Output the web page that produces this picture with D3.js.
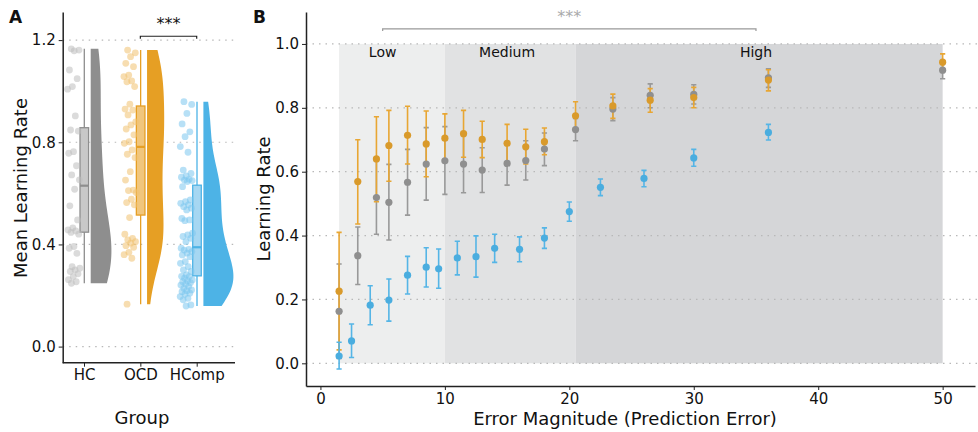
<!DOCTYPE html>
<meta charset="utf-8">
<style>
  body { margin: 0; background: #fff; }
  svg text { font-family: "DejaVu Sans", sans-serif; fill: #111; }
  .tick text { font-size: 15px; fill: #111; }
  .axis path, .axis line { stroke: #222; }
  .grid { stroke: #b8b8b8; stroke-width: 1.2; stroke-dasharray: 1.5,5; }
</style>
<svg width="978" height="432"></svg>
<script src="https://d3js.org/d3.v7.min.js"></script>
<script>

var groups = ["HC", "OCD", "HComp"];
var colors = { HC: "#8e8e8e", OCD: "#e69f24", HComp: "#4db3e6" };
var boxFill = { HC: "#c8c8c8", OCD: "#f1c67c", HComp: "#a6d7f2" };
var pointFill = { HC: "#bdbdbd", OCD: "#f0c170", HComp: "#7cc6ee" };

// ---- panel A: mean learning rate per participant ----
var hcPoints = [1.166, 1.161, 1.158, 1.083, 1.049, 1.018, 1.008, 0.903, 0.848, 0.844,
  0.763, 0.757, 0.708, 0.672, 0.653, 0.616, 0.551, 0.496, 0.465, 0.457, 0.453, 0.447,
  0.440, 0.392, 0.385, 0.365, 0.313, 0.307, 0.300, 0.294, 0.285, 0.274, 0.262, 0.254, 0.248];
var ocdPoints = [1.161, 1.150, 1.135, 1.109, 1.096, 1.063, 1.057, 1.040, 1.037, 1.018,
  0.949, 0.930, 0.926, 0.907, 0.880, 0.868, 0.852, 0.829, 0.802, 0.796, 0.770, 0.753,
  0.740, 0.685, 0.652, 0.613, 0.611, 0.603, 0.577, 0.564, 0.555, 0.505, 0.440, 0.424,
  0.418, 0.411, 0.405, 0.395, 0.389, 0.369, 0.360, 0.346, 0.166];
var hcompPoints = [0.959, 0.948, 0.913, 0.872, 0.841, 0.822, 0.783, 0.761, 0.691, 0.678,
  0.668, 0.663, 0.655, 0.652, 0.650, 0.646, 0.626, 0.574, 0.568, 0.561, 0.555, 0.548,
  0.542, 0.535, 0.502, 0.496, 0.493, 0.444, 0.437, 0.431, 0.424, 0.411, 0.385, 0.381,
  0.378, 0.372, 0.366, 0.359, 0.352, 0.333, 0.326, 0.313, 0.300, 0.294, 0.281, 0.275,
  0.274, 0.268, 0.261, 0.258, 0.254, 0.250, 0.245, 0.241, 0.235, 0.228, 0.222, 0.219,
  0.215, 0.209, 0.205, 0.196, 0.189, 0.183, 0.163, 0.159];

var boxQ1 = [0.448, 0.515, 0.277];
var boxMedian = [0.630, 0.782, 0.389];
var boxQ3 = [0.857, 0.942, 0.632];
var whiskerLo = [0.248, 0.166, 0.159];
var whiskerHi = [1.166, 1.161, 0.959];

var ticksA = [0, 0.4, 0.8, 1.2];

// ---- panel B: learning rate by error magnitude ----
var hcX = [1.5, 3, 4.5, 5.5, 7, 8.5, 10, 11.5, 13, 15, 16.5, 18, 20.5, 23.5, 26.5, 30, 36, 50];
var hcMean = [0.163, 0.337, 0.519, 0.504, 0.567, 0.624, 0.634, 0.624, 0.605, 0.626, 0.635, 0.671, 0.732, 0.796, 0.839, 0.842, 0.894, 0.918];
var hcLo = [0.015, 0.247, 0.404, 0.386, 0.464, 0.511, 0.529, 0.534, 0.535, 0.558, 0.574, 0.619, 0.697, 0.760, 0.800, 0.812, 0.864, 0.891];
var hcHi = [0.311, 0.427, 0.634, 0.623, 0.670, 0.738, 0.741, 0.714, 0.675, 0.693, 0.697, 0.721, 0.767, 0.832, 0.875, 0.872, 0.922, 0.945];

var ocdX = [1.5, 3, 4.5, 5.5, 7, 8.5, 10, 11.5, 13, 15, 16.5, 18, 20.5, 23.5, 26.5, 30, 36, 50];
var ocdMean = [0.226, 0.569, 0.640, 0.682, 0.714, 0.687, 0.705, 0.719, 0.701, 0.689, 0.678, 0.694, 0.775, 0.806, 0.824, 0.832, 0.887, 0.943];
var ocdLo = [0.042, 0.436, 0.506, 0.570, 0.624, 0.584, 0.632, 0.645, 0.644, 0.631, 0.624, 0.653, 0.732, 0.767, 0.786, 0.800, 0.853, 0.917];
var ocdHi = [0.410, 0.700, 0.772, 0.792, 0.805, 0.790, 0.781, 0.792, 0.758, 0.748, 0.733, 0.737, 0.819, 0.843, 0.860, 0.864, 0.919, 0.969];

var hcompX = [1.5, 2.5, 4, 5.5, 7, 8.5, 9.5, 11, 12.5, 14, 16, 18, 20, 22.5, 26, 30, 36];
var hcompMean = [0.023, 0.070, 0.182, 0.198, 0.276, 0.301, 0.296, 0.330, 0.334, 0.360, 0.357, 0.392, 0.475, 0.551, 0.579, 0.643, 0.723];
var hcompLo = [-0.018, 0.018, 0.121, 0.132, 0.217, 0.239, 0.235, 0.277, 0.270, 0.316, 0.318, 0.360, 0.445, 0.525, 0.553, 0.617, 0.699];
var hcompHi = [0.066, 0.123, 0.243, 0.264, 0.335, 0.362, 0.358, 0.382, 0.399, 0.404, 0.396, 0.424, 0.505, 0.577, 0.604, 0.670, 0.748];

var zoneNames = ["Low", "Medium", "High"];
var zoneStart = [1.5, 10, 20.5];
var zoneEnd = [10, 20.5, 50];
var zoneLabelX = [5, 15, 35];
var zoneColors = ["#edeeee", "#e1e2e3", "#d5d6d8"];

var ticksBx = [0, 10, 20, 30, 40, 50];
var ticksBy = [0, 0.2, 0.4, 0.6, 0.8, 1.0];

var svg = d3.select("svg");

// ================= panel A =================
var pointsByGroup = { HC: hcPoints, OCD: ocdPoints, HComp: hcompPoints };

var yA = d3.scaleLinear().domain([-0.063, 1.31]).range([362.7, 12]);
var xA = d3.scalePoint().domain(groups).range([84, 196.7]);
var aLeft = 62.7, aRight = 237;

var gA = svg.append("g");

gA.selectAll(".gridA").data(ticksA).enter().append("line")
    .attr("class", "grid")
    .attr("x1", aLeft).attr("x2", aRight)
    .attr("y1", function(d) { return yA(d); })
    .attr("y2", function(d) { return yA(d); });

// kernel density (gaussian, nrd0 bandwidth), trimmed to data range
function kde(values) {
    var v = values.slice().sort(d3.ascending);
    var n = v.length;
    var sd = d3.deviation(v);
    var iqr = d3.quantile(v, 0.75) - d3.quantile(v, 0.25);
    var bw = 0.9 * Math.min(sd, iqr / 1.34) * Math.pow(n, -0.2);
    var lo = v[0], hi = v[n - 1];
    var out = [];
    for (var k = 0; k <= 100; k++) {
        var y = lo + (hi - lo) * k / 100;
        var s = 0;
        v.forEach(function(x) {
            var z = (y - x) / bw;
            s += Math.exp(-0.5 * z * z);
        });
        out.push([y, s / (n * bw * Math.sqrt(2 * Math.PI))]);
    }
    return out;
}

var dens = groups.map(function(g) { return kde(pointsByGroup[g]); });
var maxDens = d3.max(dens, function(d) { return d3.max(d, function(p) { return p[1]; }); });
var violinW = d3.scaleLinear().domain([0, maxDens]).range([0, 30]);

groups.forEach(function(g, i) {
    var x0 = xA(g) + 6.7;
    var area = d3.area()
        .y(function(p) { return yA(p[0]); })
        .x0(x0)
        .x1(function(p) { return x0 + violinW(p[1]); });
    gA.append("path")
        .datum(dens[i])
        .attr("d", area)
        .attr("fill", colors[g]);
});

// boxes
groups.forEach(function(g, i) {
    var cx = xA(g) + 0.3, bw = 8.6;
    gA.append("line")
        .attr("x1", cx).attr("x2", cx)
        .attr("y1", yA(whiskerLo[i])).attr("y2", yA(whiskerHi[i]))
        .attr("stroke", colors[g]).attr("stroke-width", 1.3);
    gA.append("rect")
        .attr("x", cx - bw / 2).attr("width", bw)
        .attr("y", yA(boxQ3[i])).attr("height", yA(boxQ1[i]) - yA(boxQ3[i]))
        .attr("fill", boxFill[g]).attr("stroke", colors[g]).attr("stroke-width", 1.3);
    gA.append("line")
        .attr("x1", cx - bw / 2).attr("x2", cx + bw / 2)
        .attr("y1", yA(boxMedian[i])).attr("y2", yA(boxMedian[i]))
        .attr("stroke", colors[g]).attr("stroke-width", 2.2);
});

// jittered points (deterministic spread)
groups.forEach(function(g) {
    gA.selectAll(".pt" + g).data(pointsByGroup[g]).enter().append("circle")
        .attr("cx", function(d, j) { return xA(g) - 16.5 + ((j * 0.6180339 + 0.3) % 1) * 12.5; })
        .attr("cy", function(d) { return yA(d); })
        .attr("r", 3.4)
        .attr("fill", pointFill[g])
        .attr("fill-opacity", 0.55);
});

// axes A
var axA = gA.append("g").attr("class", "axis")
    .attr("transform", "translate(" + aLeft + ",0)")
    .call(d3.axisLeft(yA).tickValues(ticksA).tickFormat(d3.format(".1f")).tickSize(4).tickSizeOuter(0));
axA.select(".domain").attr("stroke-width", 1.5);

var axAx = gA.append("g").attr("class", "axis")
    .attr("transform", "translate(0,362.7)")
    .call(d3.axisBottom(xA).tickSize(4).tickSizeOuter(0));
axAx.select(".domain").remove();
axAx.append("line").attr("x1", aLeft).attr("x2", aRight - 2)
    .attr("stroke", "#222").attr("stroke-width", 1.5);

// significance A
var sigY = yA(1.215);
gA.append("path")
    .attr("d", "M" + xA("OCD") + "," + (sigY + 2.5) + "V" + sigY + "H" + xA("HComp") + "V" + (sigY + 2.5))
    .attr("fill", "none").attr("stroke", "#222").attr("stroke-width", 1.2);
gA.append("text")
    .attr("x", (xA("OCD") + xA("HComp")) / 2).attr("y", yA(1.245))
    .attr("text-anchor", "middle").attr("font-size", 16)
    .text("***");

gA.append("text").attr("transform", "translate(20,188) rotate(-90)")
    .attr("text-anchor", "middle").attr("dominant-baseline", "central")
    .attr("font-size", 18).text("Mean Learning Rate");
gA.append("text").attr("x", 142).attr("y", 417)
    .attr("text-anchor", "middle").attr("dominant-baseline", "central")
    .attr("font-size", 18).text("Group");
gA.append("text").attr("x", 9).attr("y", 23)
    .attr("font-size", 17).attr("font-weight", "bold").text("A");

// ================= panel B =================
var xB = d3.scaleLinear().domain([-1.16, 52.6]).range([306, 975]);
var yB = d3.scaleLinear().domain([-0.071, 1.1]).range([386, 12]);

var gB = svg.append("g");

gB.selectAll(".zone").data(zoneNames).enter().append("rect")
    .attr("x", function(d, i) { return xB(zoneStart[i]); })
    .attr("width", function(d, i) { return xB(zoneEnd[i]) - xB(zoneStart[i]); })
    .attr("y", yB(1)).attr("height", yB(0) - yB(1))
    .attr("fill", function(d, i) { return zoneColors[i]; });

gB.selectAll(".gridB").data(ticksBy).enter().append("line")
    .attr("class", "grid")
    .attr("x1", 306).attr("x2", 978)
    .attr("y1", function(d) { return yB(d); })
    .attr("y2", function(d) { return yB(d); });

gB.selectAll(".zoneLabel").data(zoneNames).enter().append("text")
    .attr("x", function(d, i) { return xB(zoneLabelX[i]); })
    .attr("y", 52)
    .attr("text-anchor", "middle").attr("dominant-baseline", "central")
    .attr("font-size", 14)
    .text(function(d) { return d; });

var seriesB = [
    { g: "HC", x: hcX, m: hcMean, lo: hcLo, hi: hcHi },
    { g: "OCD", x: ocdX, m: ocdMean, lo: ocdLo, hi: ocdHi },
    { g: "HComp", x: hcompX, m: hcompMean, lo: hcompLo, hi: hcompHi }
];
var errColor = { HC: "#999999", OCD: "#e8a633", HComp: "#55b5e6" };
var dotColor = { HC: "#8f8f8f", OCD: "#d99a2b", HComp: "#4aaddf" };

// error bars first, then points
seriesB.forEach(function(s) {
    s.x.forEach(function(xv, i) {
        var cx = xB(xv), cap = 2.6;
        gB.append("path")
            .attr("d", "M" + (cx - cap) + "," + yB(s.hi[i]) + "H" + (cx + cap) +
                       "M" + cx + "," + yB(s.hi[i]) + "V" + yB(s.lo[i]) +
                       "M" + (cx - cap) + "," + yB(s.lo[i]) + "H" + (cx + cap))
            .attr("fill", "none").attr("stroke", errColor[s.g]).attr("stroke-width", 1.6);
    });
});
seriesB.forEach(function(s) {
    gB.selectAll(".dot" + s.g).data(s.m).enter().append("circle")
        .attr("cx", function(d, i) { return xB(s.x[i]); })
        .attr("cy", function(d) { return yB(d); })
        .attr("r", 3.6)
        .attr("fill", dotColor[s.g]);
});

var axBy = gB.append("g").attr("class", "axis")
    .attr("transform", "translate(306,0)")
    .call(d3.axisLeft(yB).tickValues(ticksBy).tickFormat(d3.format(".1f")).tickSize(4).tickSizeOuter(0));
axBy.select(".domain").attr("stroke-width", 1.5);
var axBx = gB.append("g").attr("class", "axis")
    .attr("transform", "translate(0,386)")
    .call(d3.axisBottom(xB).tickValues(ticksBx).tickSize(4).tickSizeOuter(0));
axBx.select(".domain").attr("stroke-width", 1.5);

// significance B
var sigBY = yB(1.047);
gB.append("path")
    .attr("d", "M" + xB(5) + "," + (sigBY + 2) + "V" + sigBY + "H" + xB(35) + "V" + (sigBY + 2))
    .attr("fill", "none").attr("stroke", "#999").attr("stroke-width", 1.2);
gB.append("text")
    .attr("x", xB(20)).attr("y", yB(1.068))
    .attr("text-anchor", "middle").attr("font-size", 16).style("fill", "#aaa")
    .text("***");

gB.append("text").attr("transform", "translate(263,199) rotate(-90)")
    .attr("text-anchor", "middle").attr("dominant-baseline", "central")
    .attr("font-size", 18).text("Learning Rate");
gB.append("text").attr("x", 625).attr("y", 418)
    .attr("text-anchor", "middle").attr("dominant-baseline", "central")
    .attr("font-size", 18).text("Error Magnitude (Prediction Error)");
gB.append("text").attr("x", 253).attr("y", 23)
    .attr("font-size", 17).attr("font-weight", "bold").text("B");

</script>
